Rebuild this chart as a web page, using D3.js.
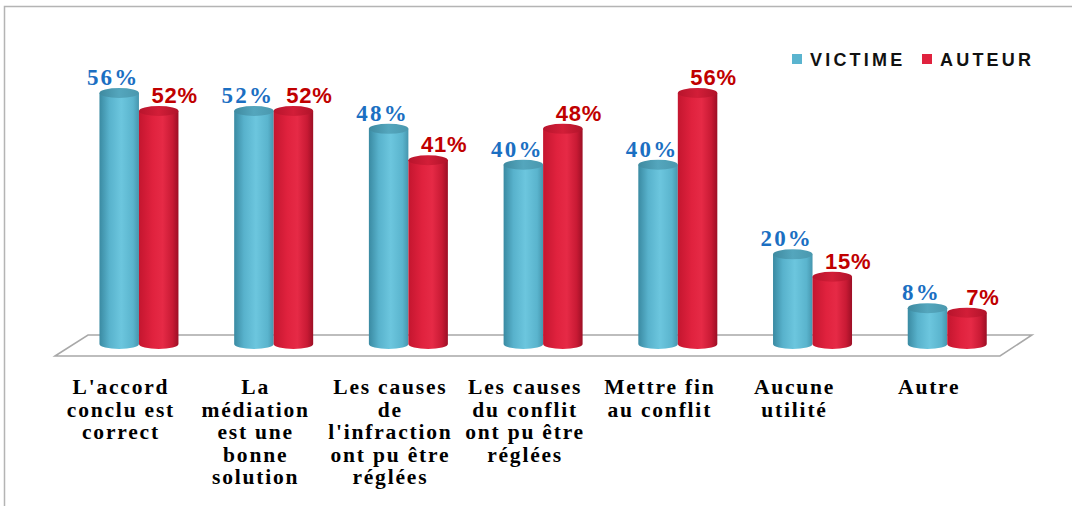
<!DOCTYPE html>
<html lang="fr">
<head>
<meta charset="UTF-8">
<title>Utilité de la médiation</title>
<style>
  body { margin: 0; background: #fff; }
  svg { display: block; }
</style>
</head>
<body>
<div class="container"></div>
<script src="https://cdn.jsdelivr.net/npm/d3@7"></script>
<script>
const categories = [
  "L'accord conclu est correct",
  "La médiation est une bonne solution",
  "Les causes de l'infraction ont pu être réglées",
  "Les causes du conflit ont pu être réglées",
  "Mettre fin au conflit",
  "Aucune utilité",
  "Autre"
]
const categoryLines = [
  ["L'accord", "conclu est", "correct"],
  ["La", "médiation", "est une", "bonne", "solution"],
  ["Les causes", "de", "l'infraction", "ont pu être", "réglées"],
  ["Les causes", "du conflit", "ont pu être", "réglées"],
  ["Mettre fin", "au conflit"],
  ["Aucune", "utilité"],
  ["Autre"]
]
const series = ["VICTIME", "AUTEUR"]
const victime = [56, 52, 48, 40, 40, 20, 8]
const auteur = [52, 52, 41, 48, 56, 15, 7]

const width = 1072
const height = 506
const barW = 39.5
const ry = 5

const svg = d3.select('.container').append("svg")
    .attr("width", width)
    .attr("height", height)

const defs = svg.append("defs")

function gradient(id, stops) {
    const g = defs.append("linearGradient").attr("id", id)
        .attr("x1", 0).attr("x2", 1).attr("y1", 0).attr("y2", 0)
    stops.forEach(s => g.append("stop").attr("offset", s[0]).attr("stop-color", s[1]))
}
gradient("gVic", [[0, "#3a8aa2"], [0.25, "#58b2cc"], [0.55, "#6cc6de"], [0.85, "#5ab4cd"], [1, "#4696ae"]])
gradient("gVicTop", [[0, "#3f8aa0"], [0.5, "#54a6bd"], [1, "#4a98ae"]])
gradient("gAut", [[0, "#c4162f"], [0.35, "#e0223e"], [0.6, "#e62a46"], [0.85, "#c81a34"], [1, "#9c0f25"]])
gradient("gAutTop", [[0, "#b8142c"], [0.5, "#d21e38"], [1, "#b0132a"]])

// frame
svg.append("path")
    .attr("d", `M4.5,${height} V6.5 H${width}`)
    .attr("fill", "none")
    .attr("stroke", "#b4b4b4")
    .attr("stroke-width", 1.5)

const x = d3.scaleBand()
    .domain(categories)
    .range([71.6, 1014.6])

const xs = d3.scaleBand()
    .domain(series)
    .range([x.bandwidth() / 2 - barW, x.bandwidth() / 2 + barW])

const y = d3.scaleLinear()
    .domain([0, 56])
    .range([344, 93])

// floor
svg.append("polygon")
    .attr("points", "55,356 88,335 1032,335 1000,356")
    .attr("fill", "#fff")
    .attr("stroke", "#a8a8a8")
    .attr("stroke-width", 1.5)

const data = []
categories.forEach((c, i) => {
    data.push({ cat: c, s: "VICTIME", v: victime[i] })
    data.push({ cat: c, s: "AUTEUR", v: auteur[i] })
})

function cylinder(d) {
    const x0 = x(d.cat) + xs(d.s)
    const x1 = x0 + barW
    const rx = barW / 2
    const yt = y(d.v)
    const yb = y(0)
    return `M${x0},${yt} V${yb} A${rx},${ry} 0 0 0 ${x1},${yb} V${yt} Z`
}

const bars = svg.append("g").attr("class", "bars")
bars.selectAll("path.body")
    .data(data)
    .join("path")
    .attr("class", "body")
    .attr("d", cylinder)
    .attr("fill", d => d.s === "VICTIME" ? "url(#gVic)" : "url(#gAut)")

bars.selectAll("ellipse.top")
    .data(data)
    .join("ellipse")
    .attr("class", "top")
    .attr("cx", d => x(d.cat) + xs(d.s) + barW / 2)
    .attr("cy", d => y(d.v))
    .attr("rx", barW / 2)
    .attr("ry", ry)
    .attr("fill", d => d.s === "VICTIME" ? "url(#gVicTop)" : "url(#gAutTop)")

// value labels
svg.append("g").selectAll("text")
    .data(data)
    .join("text")
    .attr("x", d => x(d.cat) + xs(d.s) + barW / 2 + (d.s === "VICTIME" ? -6 : 16))
    .attr("y", d => y(d.v) - 8)
    .attr("text-anchor", "middle")
    .attr("font-family", d => d.s === "VICTIME" ? "'Liberation Serif', serif" : "'Liberation Sans', Arial, sans-serif")
    .attr("font-weight", "bold")
    .attr("font-size", d => d.s === "VICTIME" ? 23 : 22)
    .attr("letter-spacing", d => d.s === "VICTIME" ? 2.2 : 0.8)
    .attr("fill", d => d.s === "VICTIME" ? "#1b6fc2" : "#c00000")
    .text(d => d.v + "%")

// category labels
const labels = svg.append("g")
    .attr("font-family", "'Liberation Serif', serif")
    .attr("font-weight", "bold")
    .attr("font-size", 21.5)
    .attr("letter-spacing", 1.8)
    .attr("fill", "#000")
    .attr("text-anchor", "middle")

categories.forEach((c, i) => {
    const t = labels.append("text")
        .attr("x", x(c) + x.bandwidth() / 2 - 18)
        .attr("y", 394)
    categoryLines[i].forEach((line, j) => {
        t.append("tspan")
            .attr("x", x(c) + x.bandwidth() / 2 - 18)
            .attr("dy", j === 0 ? 0 : 22.5)
            .text(line)
    })
})

// legend
const legend = svg.append("g")
    .attr("font-family", "'Liberation Sans', Arial, sans-serif")
    .attr("font-weight", "bold")
    .attr("font-size", 18)
    .attr("letter-spacing", 3.2)
const legendX = [792, 922]
const legendColors = ["#5ab4cf", "#e0223e"]
series.forEach((s, i) => {
    legend.append("rect")
        .attr("x", legendX[i]).attr("y", 54)
        .attr("width", 10).attr("height", 10)
        .attr("fill", legendColors[i])
    legend.append("text")
        .attr("x", legendX[i] + 18).attr("y", 66)
        .attr("fill", "#111")
        .text(s)
})
</script>
</body>
</html>
